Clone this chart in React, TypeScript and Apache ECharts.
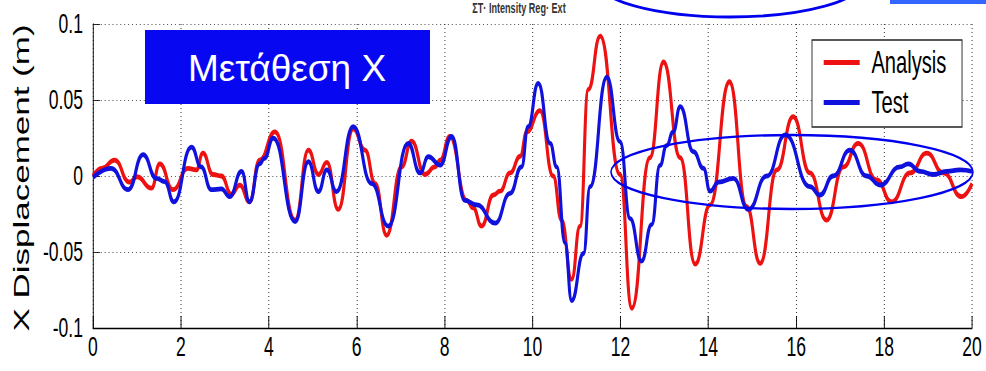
import React, { useEffect, useRef } from "react";
import * as echarts from "echarts";

// Time (s) and displacement (m)
const analysisTime = [0, 0.2, 0.49, 0.83, 1.0, 1.33, 1.52, 1.82, 2.16, 2.35, 2.5, 2.73, 2.92, 3.15, 3.34, 3.56, 3.79, 4.14, 4.6, 4.9, 5.13, 5.32, 5.58, 5.92, 6.19, 6.42, 6.68, 7.02, 7.25, 7.55, 7.78, 7.9, 8.12, 8.5, 8.65, 8.84, 9.11, 9.26, 9.49, 9.72, 9.87, 10.17, 10.47, 10.66, 10.89, 11.08, 11.27, 11.54, 11.99, 12.26, 12.67, 12.98, 13.36, 13.7, 14.04, 14.48, 14.87, 15.18, 15.56, 15.93, 16.31, 16.69, 17.07, 17.41, 17.83, 18.17, 18.59, 18.97, 19.35, 19.76, 20];
const analysisDisp = [0, 0.005, 0.0105, -0.004, -0.0005, -0.008, 0.008, -0.009, 0.005, 0.004, 0.015, 0.001, 0.0, -0.012, -0.006, -0.017, 0.0105, 0.029, -0.029, 0.017, 0.001, 0.009, -0.022, 0.031, 0.017, -0.005, -0.039, 0.006, 0.023, 0.001, 0.006, 0.0105, 0.026, -0.016, -0.021, -0.033, -0.0125, -0.01, 0.002, 0.013, 0.029, 0.043, 0.0, -0.029, -0.068, -0.033, 0.057, 0.092, 0.001, -0.087, 0.012, 0.075, 0.012, -0.058, -0.019, 0.062, -0.02, -0.0575, 0.004, 0.039, 0.002, -0.029, 0.006, 0.0215, -0.0026, -0.017, 0.002, 0.015, 0.002, -0.0136, -0.005];

const testTime = [0, 0.41, 0.8, 1.14, 1.44, 1.63, 1.84, 2.24, 2.46, 2.69, 2.92, 3.11, 3.38, 3.56, 3.79, 3.9, 4.1, 4.6, 4.9, 5.13, 5.32, 5.54, 5.92, 6.34, 6.72, 7.17, 7.44, 7.63, 7.9, 8.16, 8.46, 8.73, 9.15, 9.49, 9.75, 9.9, 10.13, 10.4, 10.55, 10.74, 10.89, 11.16, 11.31, 11.69, 11.99, 12.22, 12.48, 12.71, 12.9, 13.05, 13.2, 13.36, 13.66, 13.89, 14.04, 14.23, 14.57, 14.91, 15.33, 15.75, 16.31, 16.54, 16.84, 17.22, 17.6, 17.91, 18.36, 18.55, 18.82, 19.12, 19.42, 19.73, 20];
const testDisp = [-0.001, 0.005, -0.009, 0.014, -0.0015, -0.0037, -0.017, 0.019, 0.006, -0.009, -0.0085, -0.0136, 0.003, -0.017, 0.008, 0.0116, 0.025, -0.03, 0.0094, -0.0103, 0.004, -0.0103, 0.0325, -0.005, -0.033, 0.0215, 0.002, 0.0127, 0.0072, 0.026, -0.016, -0.019, -0.031, -0.0114, 0.006, 0.0325, 0.061, 0.0215, 0.006, -0.044, -0.082, -0.051, -0.007, 0.065, 0.0226, -0.028, -0.056, -0.032, 0.007, 0.02, 0.029, 0.0456, 0.016, 0.005, -0.01, -0.004, -0.0015, -0.022, 0.0, 0.027, -0.007, -0.0125, 0.0, 0.017, 0.0, -0.006, 0.006, 0.008, 0.003, 0.001, 0.003, 0.004, 0.003];

const seriesNames = ["Analysis", "Test"];
const seriesColors = ["#ee1111", "#1111dd"];
const yAxisTitle = "X Displacement (m)";
const boxLabel = "Μετάθεση X";
const topTitle = "ΣΤ· Intensity Reg· Ext";

const SANS = '"Liberation Sans", Arial, sans-serif';
// The reference figure is horizontally compressed; reproduce it with a CSS squeeze.
const S = 0.65;
const W = 986 / S;
const H = 371;

export default function App() {
  const ref = useRef<HTMLDivElement>(null);
  useEffect(() => {
    document.body.style.margin = "0";
    if (!ref.current) return;
    const chart = echarts.init(ref.current, null, { renderer: "svg" });
    const analysis = analysisTime.map((t, i) => [t, analysisDisp[i]]);
    const test = testTime.map((t, i) => [t, testDisp[i]]);
    const px = (v: number) => v / S;
    chart.setOption({
      animation: false,
      backgroundColor: "#ffffff",
      grid: { left: px(93), right: px(14), top: 24, bottom: 43, containLabel: false },
      xAxis: {
        type: "value",
        min: 0,
        max: 20,
        interval: 2,
        axisLine: { onZero: false, lineStyle: { color: "#000", width: 1.4 } },
        axisTick: { inside: true, length: 12, lineStyle: { color: "#000", width: 1.4 } },
        axisLabel: { fontFamily: SANS, fontSize: 27, color: "#000", margin: 5 },
        splitLine: { show: true, lineStyle: { type: [1, 3], color: "#222", width: 1.4 } },
      },
      yAxis: {
        type: "value",
        min: -0.1,
        max: 0.1,
        interval: 0.05,
        axisLine: { show: true, onZero: false, lineStyle: { color: "#000", width: 1.4 } },
        axisTick: { show: true, inside: true, length: px(7), lineStyle: { color: "#000" } },
        axisLabel: { fontFamily: SANS, fontSize: 27, color: "#000", margin: px(10) },
        splitLine: { show: true, lineStyle: { type: [1.5, 4.5], color: "#222", width: 1 } },
      },
      legend: {
        left: px(812),
        top: 40,
        orient: "vertical",
        backgroundColor: "#ffffff",
        borderColor: "#222",
        borderWidth: 1.4,
        borderRadius: 0,
        padding: [7, 24, 9, 18],
        itemGap: 9,
        itemWidth: px(36),
        itemHeight: 5,
        icon: "rect",
        z: 20,
        textStyle: { fontFamily: SANS, fontSize: 31, color: "#000", lineHeight: 30, padding: [0, 0, 0, 13] },
        data: seriesNames,
      },
      series: [
        {
          name: seriesNames[0],
          type: "line",
          data: analysis,
          showSymbol: false,
          smooth: 0.5,
          smoothMonotone: "x",
          lineStyle: { color: seriesColors[0], width: 4.8 },
          itemStyle: { color: seriesColors[0] },
          z: 3,
        },
        {
          name: seriesNames[1],
          type: "line",
          data: test,
          showSymbol: false,
          smooth: 0.5,
          smoothMonotone: "x",
          lineStyle: { color: seriesColors[1], width: 4.8 },
          itemStyle: { color: seriesColors[1] },
          z: 4,
        },
      ],
      graphic: [
        {
          type: "text",
          x: px(21),
          y: 178,
          rotation: Math.PI / 2,
          z: 10,
          style: { text: yAxisTitle, fontFamily: SANS, fontSize: 35, fill: "#000", align: "center", verticalAlign: "middle" },
        },
        {
          type: "rect",
          shape: { x: px(145), y: 30, width: px(285), height: 74 },
          style: { fill: "#0707f2" },
          z: 30,
        },
        {
          type: "text",
          x: px(287),
          y: 68,
          scaleX: 1 / S,
          z: 31,
          style: { text: boxLabel, fontFamily: SANS, fontSize: 37, fill: "#ffffff", align: "center", verticalAlign: "middle" },
        },
        {
          type: "ellipse",
          shape: { cx: px(792), cy: 172, rx: px(181), ry: 37 },
          style: { fill: "none", stroke: "#0000ee", lineWidth: 2.4 },
          z: 30,
        },
        {
          type: "ellipse",
          shape: { cx: px(730), cy: -20, rx: px(134), ry: 37 },
          style: { fill: "none", stroke: "#0000ee", lineWidth: 2.8 },
          z: 30,
        },
        {
          type: "rect",
          shape: { x: px(890), y: 0, width: px(96), height: 4 },
          style: { fill: "#3366ff" },
          z: 30,
        },
        {
          type: "text",
          x: px(519),
          y: 1,
          z: 29,
          style: { text: topTitle, fontFamily: SANS, fontSize: 14, fontWeight: "bold", fill: "#333", align: "center", verticalAlign: "top" },
        },
      ],
    });
    return () => chart.dispose();
  }, []);
  return (
    <div style={{ width: 986, height: H, overflow: "hidden", position: "relative" }}>
      <div ref={ref} style={{ width: W, height: H, transform: `scaleX(${S})`, transformOrigin: "0 0" }} />
    </div>
  );
}
